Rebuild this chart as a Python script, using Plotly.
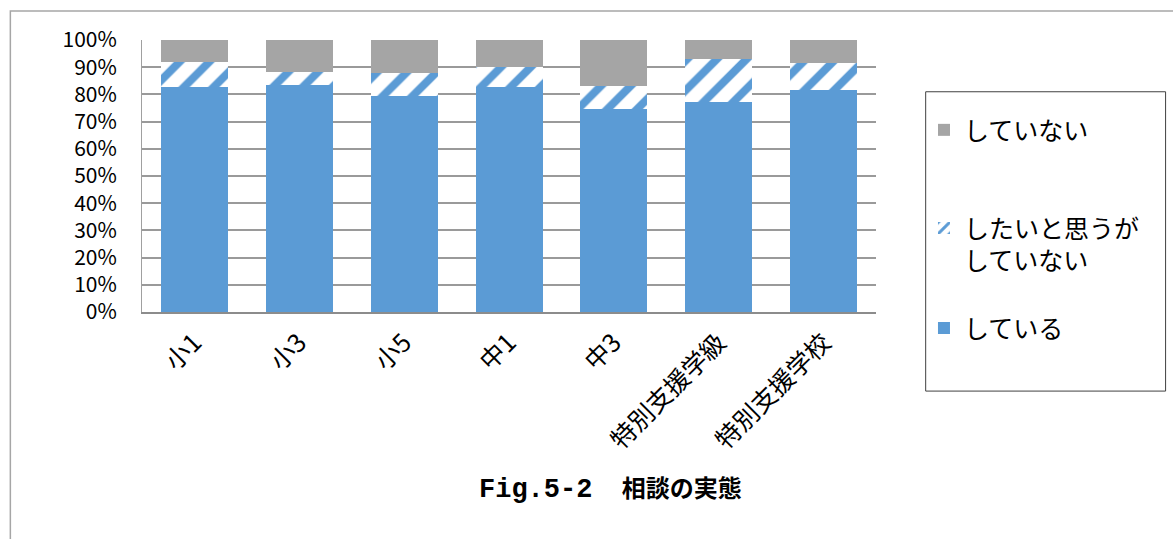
import plotly.graph_objects as go

# 学年・学級ごとの相談状況（%）
categories = ["小1", "小3", "小5", "中1", "中3", "特別支援学級", "特別支援学校"]
doing = [82.8, 83.4, 79.5, 82.8, 74.6, 77.1, 81.5]          # している
want_but_not = [9.2, 4.9, 8.2, 7.1, 8.5, 15.9, 9.9]        # したいと思うがしていない
not_doing = [8.0, 11.7, 12.3, 10.1, 16.9, 7.0, 8.6]        # していない

y_ticks = [0, 10, 20, 30, 40, 50, 60, 70, 80, 90, 100]

BLUE = "#5b9bd5"
GRAY = "#a5a5a5"
JP_FONT = "Noto Sans CJK JP, Noto Sans, sans-serif"

fig = go.Figure()
fig.add_trace(go.Bar(
    x=categories, y=doing, name="している",
    marker=dict(color=BLUE, line=dict(width=0)),
    legend="legend3",
))
fig.add_trace(go.Bar(
    x=categories, y=want_but_not, name="したいと思うが<br>していない",
    marker=dict(
        color="white", line=dict(width=0),
        pattern=dict(shape="/", fgcolor=BLUE, bgcolor="white",
                     size=21, solidity=0.38, fillmode="replace"),
    ),
    legend="legend2",
))
fig.add_trace(go.Bar(
    x=categories, y=not_doing, name="していない",
    marker=dict(color=GRAY, line=dict(width=0)),
    legend="legend",
))

W, H = 1173, 539
L, R, T, B = 141.7, 297, 40, 227.3
pw = W - L - R
ph = H - T - B


def px(xp):
    return (xp - L) / pw


def py(yp):
    return (H - B - yp) / ph


def legend_box(y_center, valign="middle"):
    return dict(
        x=px(924), y=py(y_center), xanchor="left", yanchor="middle",
        font=dict(size=25, family=JP_FONT, color="black"),
        bgcolor="rgba(0,0,0,0)", borderwidth=0, valign=valign,
        itemclick=False, itemdoubleclick=False,
    )


fig.update_layout(
    width=W, height=H,
    margin=dict(l=L, r=R, t=T, b=B, autoexpand=False),
    paper_bgcolor="white", plot_bgcolor="white",
    barmode="stack", bargap=0.361,
    font=dict(family=JP_FONT, color="black"),
    showlegend=True,
    legend=legend_box(130),
    legend2=legend_box(244, valign="top"),
    legend3=legend_box(328),
    xaxis=dict(
        type="category", tickangle=-45,
        tickfont=dict(size=25, family=JP_FONT),
        showline=True, linecolor="#8c8c8c", linewidth=2,
        showgrid=False, ticks="", ticklabelstandoff=4,
    ),
    yaxis=dict(
        range=[0, 100], tickvals=y_ticks,
        ticktext=[f"{v}%" for v in y_ticks],
        tickfont=dict(size=21, family=JP_FONT),
        showline=True, linecolor="#a0a0a0", linewidth=1,
        showgrid=True, gridcolor="#9a9a9a", gridwidth=1.5,
        zeroline=False, ticks="", ticklabelstandoff=20,
    ),
    shapes=[
        # 図全体の枠
        dict(type="rect", xref="paper", yref="paper",
             x0=px(10), x1=px(1200), y0=py(560), y1=py(11),
             line=dict(color="#a6a6a6", width=1.5), layer="below"),
        # 凡例の枠
        dict(type="rect", xref="paper", yref="paper",
             x0=px(925.7), x1=px(1165.7), y0=py(390.7), y1=py(91.7),
             line=dict(color="#404040", width=1)),
    ],
    annotations=[
        dict(text=("<b><span style='font-family:Liberation Mono, monospace;"
                   "font-size:27px'>Fig.5-2</span>　 相談の実態</b>"),
             xref="paper", yref="paper",
             x=px(610), y=py(487), xanchor="center", yanchor="middle",
             showarrow=False, font=dict(size=24, family=JP_FONT, color="black")),
    ],
)

fig.write_html("out.html")
